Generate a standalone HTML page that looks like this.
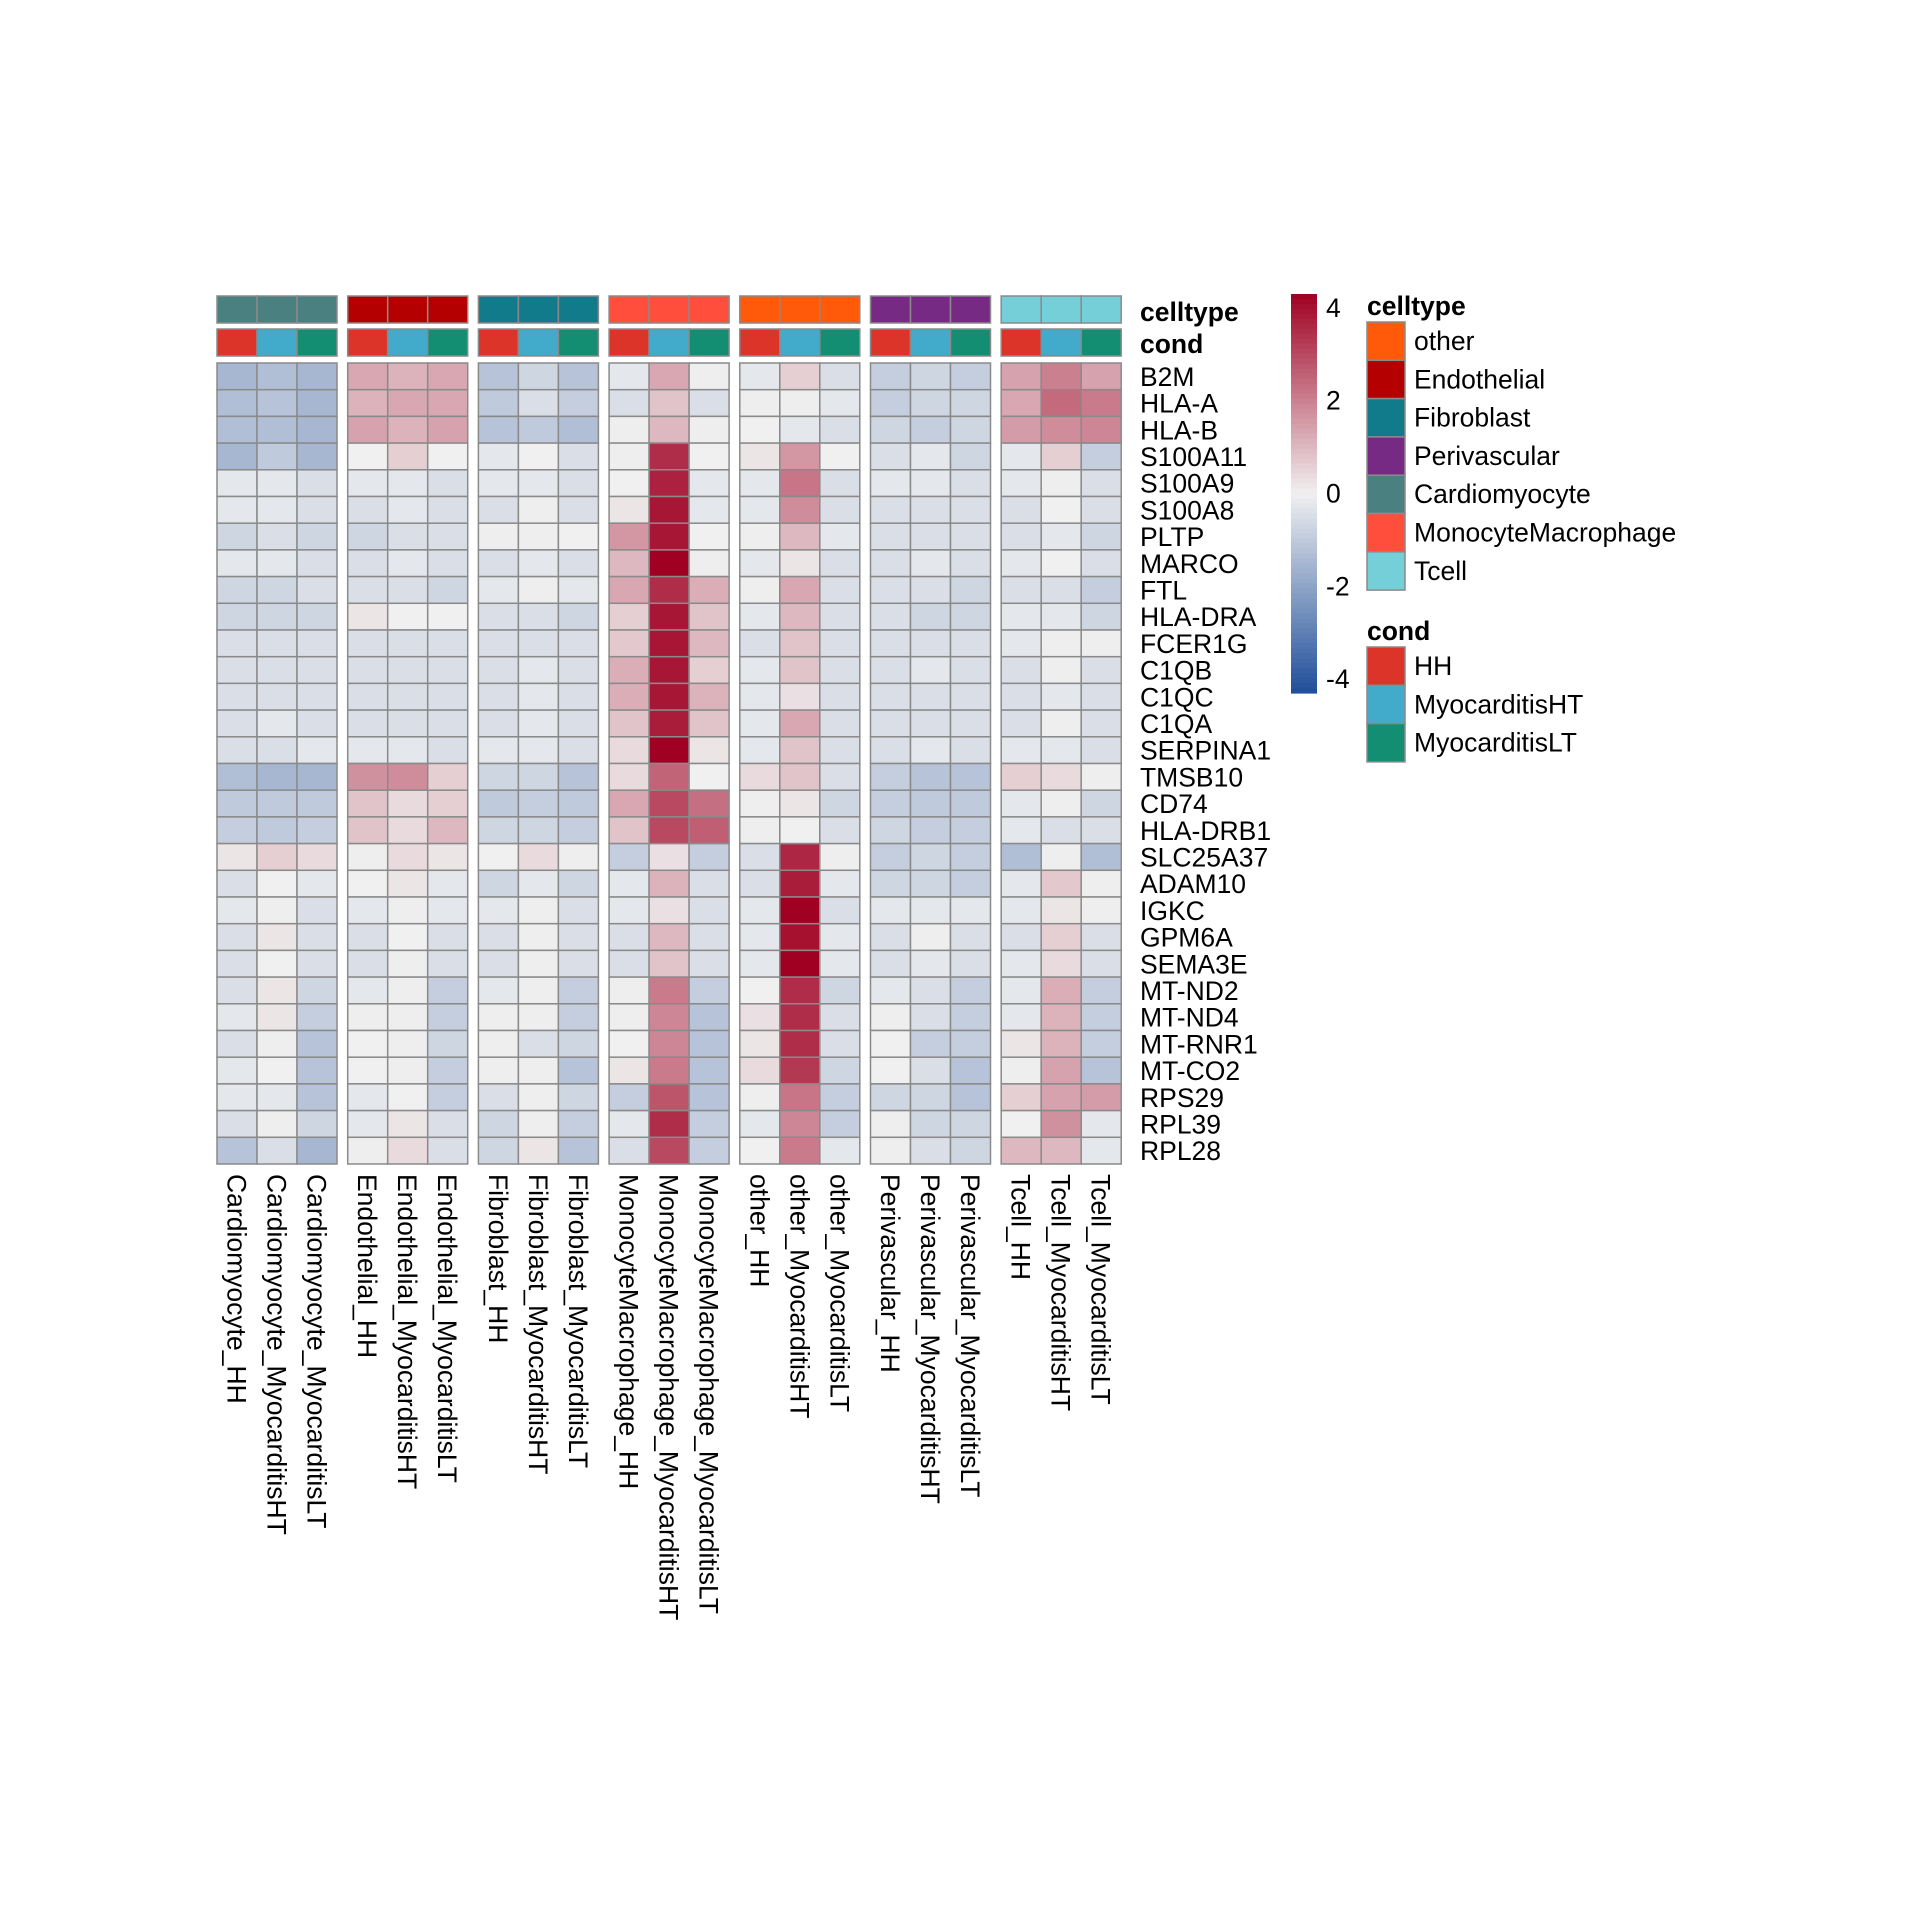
<!DOCTYPE html>
<html><head><meta charset="utf-8">
<style>
html,body{margin:0;padding:0;background:#fff;}
svg{display:block;font-family:"Liberation Sans",Arial,sans-serif;}
</style></head>
<body>
<svg id="chart" width="1920" height="1920" viewBox="0 0 1920 1920" xmlns="http://www.w3.org/2000/svg"></svg>
<script>
const genes = ["B2M","HLA-A","HLA-B","S100A11","S100A9","S100A8","PLTP","MARCO","FTL","HLA-DRA","FCER1G","C1QB","C1QC","C1QA","SERPINA1","TMSB10","CD74","HLA-DRB1","SLC25A37","ADAM10","IGKC","GPM6A","SEMA3E","MT-ND2","MT-ND4","MT-RNR1","MT-CO2","RPS29","RPL39","RPL28"];
const celltypes = ["Cardiomyocyte","Endothelial","Fibroblast","MonocyteMacrophage","other","Perivascular","Tcell"];
const conds = ["HH","MyocarditisHT","MyocarditisLT"];
const celltypeColors = {other:"#FF5A0A",Endothelial:"#B40000",Fibroblast:"#117A8B",Perivascular:"#772A84",Cardiomyocyte:"#4A8080",MonocyteMacrophage:"#FF4E3C",Tcell:"#74CFD8"};
const condColors = {HH:"#DD3429",MyocarditisHT:"#42ABCB",MyocarditisLT:"#138E72"};
const legendCelltypes = ["other","Endothelial","Fibroblast","Perivascular","Cardiomyocyte","MonocyteMacrophage","Tcell"];
const colorbarTicks = [4,2,0,-2,-4];
const values = [
[-1.5,-1.3,-1.5, 1.3,1.1,1.3, -1.2,-0.7,-1.2, -0.25,1.3,-0.05, -0.25,0.6,-0.45, -0.9,-0.7,-0.9, 1.4,2.0,1.4],
[-1.3,-1.2,-1.5, 1.1,1.3,1.3, -1.0,-0.45,-0.9, -0.45,0.8,-0.45, -0.05,-0.05,-0.25, -0.9,-0.7,-0.7, 1.3,2.4,2.1],
[-1.3,-1.3,-1.5, 1.4,1.1,1.4, -1.2,-1.0,-1.3, -0.05,1.0,-0.05, 0,-0.25,-0.45, -0.7,-0.9,-0.7, 1.5,1.8,1.9],
[-1.5,-1.0,-1.5, 0,0.6,0, -0.25,0,-0.45, -0.05,3.5,0, 0.2,1.6,0, -0.45,-0.25,-0.7, -0.25,0.6,-0.9],
[-0.25,-0.25,-0.45, -0.25,-0.25,-0.45, -0.25,-0.25,-0.45, 0,3.7,-0.25, -0.25,2.2,-0.45, -0.25,-0.25,-0.45, -0.25,-0.05,-0.45],
[-0.25,-0.25,-0.45, -0.45,-0.25,-0.45, -0.45,-0.05,-0.45, 0.2,3.9,-0.25, -0.25,1.8,-0.45, -0.45,-0.45,-0.45, -0.45,0,-0.45],
[-0.7,-0.45,-0.7, -0.7,-0.45,-0.45, -0.05,-0.05,0, 1.6,3.9,0, -0.05,1.0,-0.25, -0.45,-0.45,-0.45, -0.45,-0.25,-0.7],
[-0.25,-0.25,-0.45, -0.45,-0.25,-0.45, -0.45,-0.25,-0.45, 1.0,4.3,-0.05, -0.25,0.2,-0.45, -0.45,-0.25,-0.45, -0.25,0,-0.45],
[-0.7,-0.7,-0.45, -0.45,-0.45,-0.7, -0.25,-0.05,-0.25, 1.3,3.5,1.2, -0.05,1.3,-0.45, -0.45,-0.45,-0.7, -0.45,-0.45,-0.9],
[-0.7,-0.7,-0.7, 0.2,0,0, -0.45,-0.45,-0.7, 0.6,3.9,0.8, -0.25,1.0,-0.45, -0.45,-0.7,-0.7, -0.25,-0.25,-0.7],
[-0.45,-0.45,-0.45, -0.45,-0.45,-0.45, -0.45,-0.45,-0.45, 0.7,3.9,1.0, -0.45,0.8,-0.45, -0.45,-0.45,-0.45, -0.25,-0.05,-0.05],
[-0.45,-0.45,-0.45, -0.45,-0.45,-0.45, -0.45,-0.25,-0.45, 1.2,3.9,0.6, -0.25,0.8,-0.45, -0.45,-0.25,-0.45, -0.45,-0.05,-0.45],
[-0.45,-0.45,-0.45, -0.45,-0.45,-0.45, -0.45,-0.25,-0.45, 1.2,3.9,1.1, -0.25,0.3,-0.45, -0.45,-0.45,-0.45, -0.45,-0.25,-0.45],
[-0.45,-0.25,-0.45, -0.45,-0.45,-0.45, -0.45,-0.25,-0.45, 0.8,3.8,0.8, -0.25,1.3,-0.45, -0.45,-0.45,-0.45, -0.45,-0.05,-0.45],
[-0.45,-0.45,-0.25, -0.25,-0.25,-0.45, -0.25,-0.25,-0.45, 0.4,4.3,0.2, -0.25,0.8,-0.45, -0.45,-0.25,-0.45, -0.25,-0.25,-0.45],
[-1.3,-1.5,-1.5, 1.7,1.8,0.6, -0.7,-0.7,-1.2, 0.4,2.5,0, 0.4,0.8,-0.45, -0.9,-1.2,-1.2, 0.6,0.4,-0.05],
[-1.0,-1.0,-1.0, 0.8,0.4,0.6, -1.0,-0.9,-1.0, 1.3,3.0,2.3, -0.05,0.2,-0.7, -0.9,-1.0,-1.0, -0.25,-0.05,-0.7],
[-0.9,-1.0,-0.9, 0.8,0.4,1.0, -0.7,-0.7,-0.9, 0.8,3.0,2.6, -0.05,0,-0.45, -0.7,-0.9,-0.9, -0.25,-0.45,-0.45],
[0.2,0.6,0.4, -0.05,0.4,0.2, 0,0.4,-0.05, -0.9,0.3,-0.9, -0.45,3.6,-0.05, -0.9,-0.7,-0.9, -1.3,-0.05,-1.3],
[-0.45,0,-0.25, 0,0.2,-0.25, -0.7,-0.25,-0.7, -0.25,1.1,-0.45, -0.45,3.8,-0.25, -0.7,-0.7,-0.9, -0.25,0.7,-0.05],
[-0.25,-0.05,-0.45, -0.25,-0.05,-0.25, -0.25,-0.05,-0.45, -0.25,0.3,-0.45, -0.25,4.3,-0.45, -0.25,-0.25,-0.25, -0.25,0.2,-0.05],
[-0.45,0.2,-0.45, -0.45,0,-0.45, -0.45,-0.05,-0.45, -0.45,1.0,-0.45, -0.25,4.0,-0.25, -0.45,-0.05,-0.45, -0.45,0.6,-0.45],
[-0.45,0,-0.45, -0.45,-0.05,-0.45, -0.45,-0.05,-0.45, -0.45,0.8,-0.45, -0.25,4.3,-0.25, -0.45,-0.25,-0.45, -0.25,0.4,-0.45],
[-0.45,0.2,-0.7, -0.25,-0.05,-0.9, -0.25,-0.05,-0.9, -0.05,2.1,-0.9, 0,3.5,-0.7, -0.25,-0.45,-0.9, -0.25,1.2,-0.9],
[-0.25,0.2,-0.9, -0.05,-0.05,-0.9, -0.05,-0.05,-0.9, -0.05,1.9,-1.2, 0.3,3.5,-0.45, -0.05,-0.45,-0.9, -0.25,1.1,-0.9],
[-0.45,-0.05,-1.2, 0,-0.05,-0.7, -0.05,-0.45,-0.7, 0,1.9,-1.2, 0.2,3.5,-0.45, 0,-0.9,-0.9, 0.2,1.1,-0.9],
[-0.25,0,-1.2, 0,-0.05,-0.9, -0.05,-0.05,-1.2, 0.2,2.1,-1.2, 0.4,3.3,-0.7, 0,-0.45,-1.2, -0.05,1.4,-1.2],
[-0.25,-0.25,-1.2, -0.25,0,-0.9, -0.45,-0.05,-0.7, -0.9,2.8,-1.2, -0.05,2.2,-0.9, -0.7,-0.7,-1.2, 0.6,1.4,1.5],
[-0.45,-0.05,-0.7, -0.25,0.2,-0.45, -0.7,-0.05,-0.9, -0.25,3.5,-0.9, -0.25,1.9,-0.9, -0.05,-0.7,-0.7, 0,1.7,-0.25],
[-1.2,-0.45,-1.5, -0.05,0.4,-0.45, -0.7,0.2,-1.2, -0.45,3.0,-0.9, 0,2.1,-0.25, -0.05,-0.45,-0.7, 1.0,1.0,-0.25]
];

const NS="http://www.w3.org/2000/svg";
const svgEl=document.getElementById('chart');
function mk(tag,attrs,parent){const e=document.createElementNS(NS,tag);for(const k in attrs)e.setAttribute(k,attrs[k]);(parent||svgEl).appendChild(e);return e;}

const FS=26.5;
const VMAX=4.3;
const cLow=[31,78,154], cMid=[240,240,240], cHigh=[160,0,34];
function colorScale(v){
  let t=Math.max(-1,Math.min(1,v/VMAX));
  const a=cMid,b=t<0?cLow:cHigh;t=Math.abs(t);
  const c=a.map((x,i)=>Math.round(x+(b[i]-x)*t));
  return `rgb(${c[0]},${c[1]},${c[2]})`;
}
const gridLeft=217, cellW=40, groupStride=130.7, gridTop=363, rowH=26.7;
function xPos(ci){return gridLeft+Math.floor(ci/3)*groupStride+(ci%3)*cellW;}
function yPos(ri){return gridTop+ri*rowH;}
const gridColor="#8a8a8a";

const ann=mk('g',{});


for(let g=0;g<celltypes.length;g++){
  for(let k=0;k<3;k++){
    const ci=g*3+k;
    const r1=mk('rect',{x:xPos(ci),y:296,width:cellW,height:27,fill:celltypeColors[celltypes[g]],stroke:gridColor,'stroke-width':1.5},ann);
    
    
    const r2=mk('rect',{x:xPos(ci),y:329,width:cellW,height:27,fill:condColors[conds[k]],stroke:gridColor,'stroke-width':1.5},ann);
    
    
  }
}
const t1=mk('text',{x:1140,y:321,'font-size':FS,'font-weight':'bold',fill:'#000'});t1.textContent='celltype';


const t2=mk('text',{x:1140,y:353,'font-size':FS,'font-weight':'bold',fill:'#000'});t2.textContent='cond';



const cells=mk('g',{});


values.forEach((row,ri)=>{
  row.forEach((v,ci)=>{
    const r=mk('rect',{x:xPos(ci),y:yPos(ri),width:cellW,height:rowH,fill:colorScale(v),stroke:gridColor,'stroke-width':1.5},cells);
    
    
  });
});
genes.forEach((gname,ri)=>{
  const t=mk('text',{x:1140,y:yPos(ri)+rowH/2+9.5,'font-size':FS,fill:'#000'});
  t.textContent=gname;
  
  
});
celltypes.forEach((ct,g)=>{
  conds.forEach((cd,k)=>{
    const ci=g*3+k;
    const cx=xPos(ci)+cellW/2-9.5, cy=1174;
    const t=mk('text',{x:cx,y:cy,'font-size':FS,fill:'#000',transform:`rotate(90 ${cx} ${cy})`});
    t.textContent=ct+'_'+cd;
    
    
  });
});

const cb=mk('g',{});


const cbTop=294, cbBot=693, cbX=1291, cbW=26;
const nSeg=80;
for(let i=0;i<nSeg;i++){
  const v=VMAX-(2*VMAX)*(i+0.5)/nSeg;
  mk('rect',{x:cbX,y:cbTop+(cbBot-cbTop)*i/nSeg,width:cbW,height:(cbBot-cbTop)/nSeg+0.6,fill:colorScale(v)},cb);
}
function cbY(v){return cbTop+(VMAX-v)/(2*VMAX)*(cbBot-cbTop);}
colorbarTicks.forEach(v=>{
  const t=mk('text',{x:1326,y:cbY(v)+9,'font-size':FS,fill:'#000'},cb);
  t.textContent=String(v);
  
  
});

const lg=mk('g',{});


const lt=mk('text',{x:1367,y:315,'font-size':FS,'font-weight':'bold',fill:'#000'},lg);lt.textContent='celltype';


legendCelltypes.forEach((ct,i)=>{
  const y=322+i*38.3;
  const r=mk('rect',{x:1367,y:y,width:38,height:38.3,fill:celltypeColors[ct],stroke:gridColor,'stroke-width':1.5},lg);
  
  
  const t=mk('text',{x:1414,y:y+28,'font-size':FS,fill:'#000'},lg);t.textContent=ct;
  
  
});
const lg2=mk('g',{});


const lt2=mk('text',{x:1367,y:640,'font-size':FS,'font-weight':'bold',fill:'#000'},lg2);lt2.textContent='cond';


conds.forEach((cd,i)=>{
  const y=647+i*38.3;
  const r=mk('rect',{x:1367,y:y,width:38,height:38.3,fill:condColors[cd],stroke:gridColor,'stroke-width':1.5},lg2);
  
  
  const t=mk('text',{x:1414,y:y+28,'font-size':FS,fill:'#000'},lg2);t.textContent=cd;
  
  
});
</script>
</body></html>
